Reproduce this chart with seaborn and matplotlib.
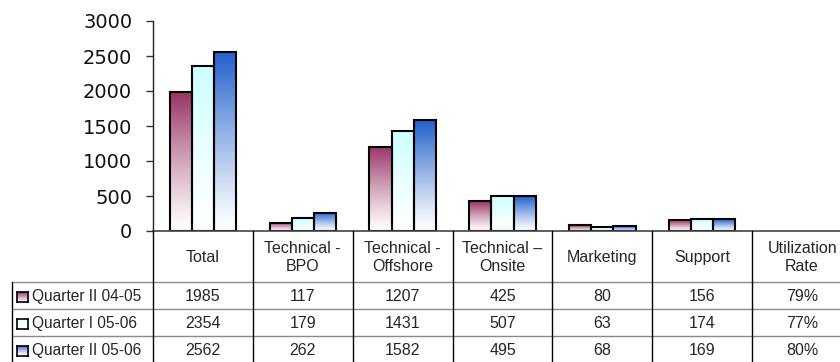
import numpy as np
import pandas as pd
import matplotlib
matplotlib.use("Agg")
import matplotlib.pyplot as plt
import seaborn as sns
from matplotlib.colors import to_rgb
from matplotlib.lines import Line2D
from matplotlib.transforms import blended_transform_factory

# ---- data -------------------------------------------------------------
categories = ["Total", "Technical -\nBPO", "Technical -\nOffshore",
              "Technical \u2013\nOnsite", "Marketing", "Support",
              "Utilization\nRate"]
bar_categories = categories[:6]
series = ["Quarter II 04-05", "Quarter I 05-06", "Quarter II 05-06"]
q2_0405 = [1985, 117, 1207, 425, 80, 156]
q1_0506 = [2354, 179, 1431, 507, 63, 174]
q2_0506 = [2562, 262, 1582, 495, 68, 169]
utilization = ["79%", "77%", "80%"]
y_ticks = [0, 500, 1000, 1500, 2000, 2500, 3000]

top_colors = ["#993366", "#CCFFFF", "#1F5FCC"]

rows = []
for name, vals in zip(series, [q2_0405, q1_0506, q2_0506]):
    for cat, v in zip(bar_categories, vals):
        rows.append({"category": cat, "series": name, "value": v})
df = pd.DataFrame(rows)

# ---- figure -----------------------------------------------------------
sns.set_style("white")
plt.rcParams["font.family"] = ["DejaVu Sans"]
W, H = 840, 362
fig = plt.figure(figsize=(W / 100, H / 100), dpi=100)

def fx(px):
    return px / W

def fy(py):
    return 1 - py / H

ax_left, ax_right, ax_top, ax_bottom = 153, 852, 21, 231
ax = fig.add_axes([fx(ax_left), fy(ax_bottom),
                   fx(ax_right - ax_left), (ax_bottom - ax_top) / H])

sns.barplot(data=df, x="category", y="value", hue="series",
            order=categories, hue_order=series, palette=top_colors,
            width=2 / 3, errorbar=None, legend=False,
            edgecolor="black", linewidth=1.5, ax=ax)

# white-to-colour vertical gradient inside each bar
def gradient(color, n=256):
    c = np.array(to_rgb(color))
    t = np.linspace(0, 1, n)[:, None] ** 1.2
    img = (1 - t) * np.ones(3) + t * c
    return img[:, None, :]

n_cat = len(bar_categories)
for i, patch in enumerate(ax.patches):
    color = top_colors[i // n_cat]
    x0, y0 = patch.get_x(), patch.get_y()
    w, h = patch.get_width(), patch.get_height()
    im = ax.imshow(gradient(color), extent=[x0, x0 + w, y0, y0 + h],
                   origin="lower", aspect="auto", interpolation="bilinear",
                   zorder=patch.get_zorder() - 0.1)
    im.set_clip_path(patch)
    patch.set_facecolor("none")

ax.set_xlim(-0.5, len(categories) - 0.5)
ax.set_ylim(0, 3000)
ax.set_yticks(y_ticks)
ax.set_yticklabels([str(t) for t in y_ticks], fontsize=14, color="#111111")
ax.set_xticks([])
ax.set_xlabel("")
ax.set_ylabel("")
ax.tick_params(axis="y", direction="out", length=5, width=1,
               color="#333333", pad=10, left=True)
for s in ["top", "right"]:
    ax.spines[s].set_visible(False)
ax.spines["left"].set_color("#222222")
ax.spines["bottom"].set_color("#444444")
ax.spines["left"].set_linewidth(1)
ax.spines["bottom"].set_linewidth(1.2)

# ---- data table -------------------------------------------------------
tbl_font = ["Liberation Sans", "DejaVu Sans"]
trans = blended_transform_factory(ax.transData, fig.transFigure)
header_top, header_bottom = 231, 282
row_edges = [282, 309, 336, 363]
legend_left = 12

# horizontal grey rules
for y in row_edges[:-1]:
    fig.add_artist(Line2D([fx(legend_left), fx(ax_right)], [fy(y), fy(y)],
                          transform=fig.transFigure, color="#8a8a8a", lw=1))
# vertical black rules
for k in range(len(categories)):
    xb = k - 0.5
    fig.add_artist(Line2D([xb, xb], [fy(header_top), fy(H + 2)],
                          transform=trans, color="black", lw=1))
fig.add_artist(Line2D([fx(legend_left), fx(legend_left)],
                      [fy(header_bottom), fy(H + 2)],
                      transform=fig.transFigure, color="black", lw=1))

# header labels
for k, cat in enumerate(categories):
    fig.text(k, fy((header_top + header_bottom) / 2 + 1), cat,
             transform=trans, ha="center", va="center", fontsize=11.5,
             family=tbl_font, linespacing=1.25)

# rows
values = [q2_0405, q1_0506, q2_0506]
for r, name in enumerate(series):
    yc = (row_edges[r] + row_edges[r + 1]) / 2 + 1
    # legend key
    kax = fig.add_axes([fx(17), fy(yc + 5), fx(11), 10 / H])
    kax.imshow(gradient(top_colors[r]), origin="lower", aspect="auto",
               extent=[0, 1, 0, 1])
    kax.set_xticks([])
    kax.set_yticks([])
    for s in kax.spines.values():
        s.set_color("black")
        s.set_linewidth(1.2)
    fig.text(fx(32), fy(yc), name, ha="left", va="center", fontsize=11.2,
             family=tbl_font)
    for k in range(len(bar_categories)):
        fig.text(k, fy(yc), str(values[r][k]), transform=trans,
                 ha="center", va="center", fontsize=11.5, family=tbl_font)
    fig.text(len(categories) - 1, fy(yc), utilization[r], transform=trans,
             ha="center", va="center", fontsize=11.5, family=tbl_font)

fig.savefig("out.png", dpi=100)
